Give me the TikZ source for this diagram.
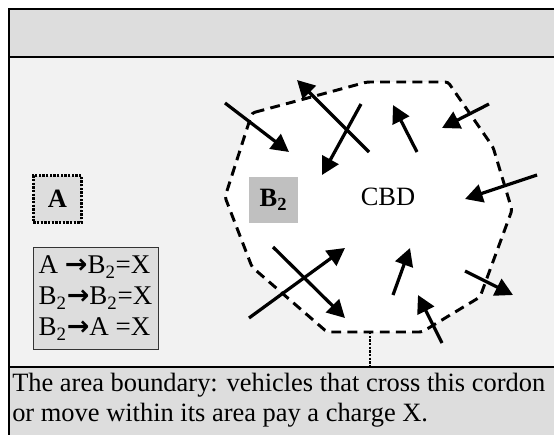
\documentclass[tikz,border=0pt]{standalone}
\usepackage{fontspec}
\setmainfont{Liberation Serif}
\newfontfamily\arrowfont{DejaVu Sans}
\usepackage{xcolor}
\usetikzlibrary{arrows.meta}

\definecolor{panel}{HTML}{DDDDDD}
\definecolor{areabg}{HTML}{F2F2F2}
\definecolor{zone}{HTML}{C0C0C0}
\newcommand{\legarrow}{{\arrowfont\bfseries →}}
\newcommand{\Btwo}{B\textsubscript{2}}

\begin{document}
\begin{tikzpicture}[x=0.025cm,y=-0.025cm,
  every node/.style={font=\fontsize{18.8}{21.3}\selectfont},
  flow/.style={line width=2.3pt,-{Triangle[length=12.5pt,width=13pt]}},
  cordon/.style={line width=2.1pt,dash pattern=on 7pt off 4.5pt,rounded corners=2pt}]
\useasboundingbox (0,0) rectangle (554,435);
% panels
\fill[areabg] (9,57) rectangle (560,367);
\fill[panel] (9,9) rectangle (560,57);
\fill[panel] (9,367) rectangle (560,440);
\draw[line width=0.8pt] (560,9) -- (9,9) -- (9,440);
\draw[line width=1.4pt] (9,57) -- (560,57);
\draw[line width=1.4pt] (9,367) -- (560,367);
% charged area
\draw[cordon,fill=white] (252,113) -- (367,82) -- (448,82) -- (493,147) -- (512,210)
  -- (480,297) -- (422,332) -- (327,332) -- (252,267) -- (225,197) -- cycle;
\coordinate (stem) at (370,332);
\coordinate (band) at (370,367);
\draw[line width=1.6pt,densely dotted] (stem) -- (band);
% zones
\node[fill=zone,minimum width=1.21cm,minimum height=1.17cm] (b2) at (273.5,200) {\textbf{\Btwo}};
\node (cbd) at (388,197) {CBD};
\node[fill=panel,draw,line width=1.6pt,densely dotted,minimum width=1.2cm,minimum height=1.17cm] (zonea) at (57.5,199) {\textbf{A}};
\node[fill=panel,draw=black!80,line width=0.6pt,align=left,inner sep=2pt,
  minimum width=3.125cm,minimum height=2.55cm,
  font=\fontsize{19.2}{22}\selectfont] (legend) at (95.5,298)
  {A \legarrow\Btwo=X\\\Btwo\legarrow\Btwo=X\\\Btwo\legarrow A =X};
% trips
\foreach \xa/\ya/\xb/\yb in {225/103/289/152, 369/152/297/80, 361/104/322/175,
  417/152/393/105, 489/104/442/128, 537/175/465/199, 273/247/345/318,
  249/318/345/248, 393/295/410/248, 442/343/418/295, 465/271/513/295}
  \draw[flow] (\xa,\ya) -- (\xb,\yb);
% note
\node[anchor=north west,align=left,inner sep=0pt,font=\fontsize{18.8}{21.3}\selectfont] (note) at (12,373)
  {The area boundary: vehicles that cross this cordon\\or move within its area pay a charge X.};
\end{tikzpicture}
\end{document}
